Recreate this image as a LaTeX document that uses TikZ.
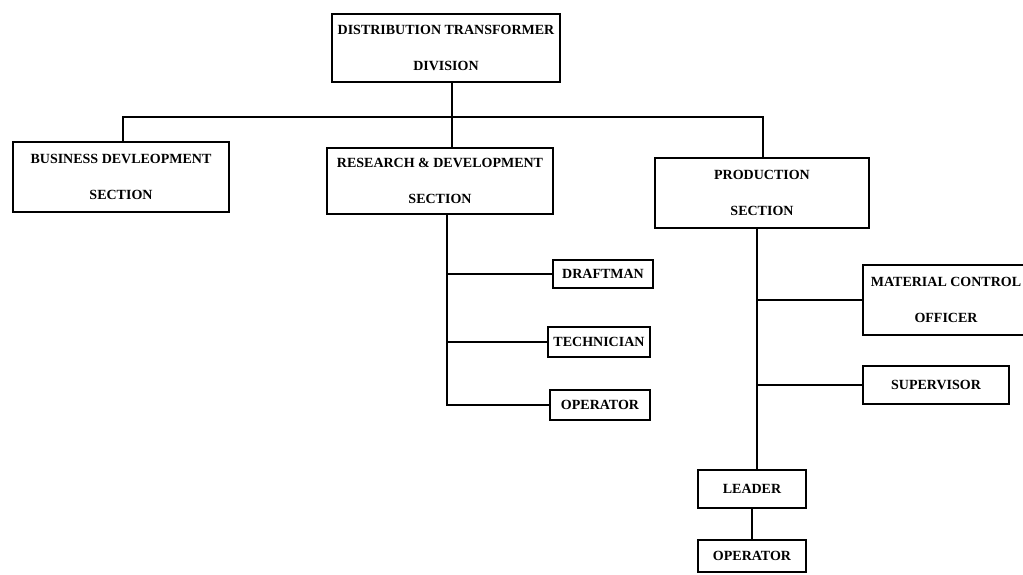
\documentclass[tikz,border=0pt]{standalone}
\usepackage{fontspec}
\setmainfont{Liberation Serif}
\begin{document}
\begin{tikzpicture}[x=1pt,y=-1pt,
  box/.style={draw=black, line width=1.8pt, fill=white, inner sep=0pt, align=center,
    font=\bfseries\fontsize{14}{36}\selectfont},
  conn/.style={draw=black, line width=1.5pt}]
\useasboundingbox (0,0) rectangle (1023,575);
\clip (0,0) rectangle (1023,575);
\fill[white] (0,0) rectangle (1023,575);
% boxes
\node[box, minimum width=228pt, minimum height=68pt] (div) at (446,48) {DISTRIBUTION TRANSFORMER\\DIVISION};
\node[box, minimum width=216pt, minimum height=70pt] (bus) at (121,177) {BUSINESS DEVLEOPMENT\\SECTION};
\node[box, minimum width=226pt, minimum height=66pt] (rnd) at (440,181) {RESEARCH \& DEVELOPMENT\\SECTION};
\node[box, minimum width=214pt, minimum height=70pt] (prod) at (762,193) {PRODUCTION\\SECTION};
\node[box, minimum width=100pt, minimum height=28pt] (draft) at (603,274) {DRAFTMAN};
\node[box, minimum width=102pt, minimum height=30pt] (tech) at (599,342) {TECHNICIAN};
\node[box, minimum width=100pt, minimum height=30pt] (op1) at (600,405) {OPERATOR};
\node[box, minimum width=166pt, minimum height=70pt] (mat) at (946,300) {MATERIAL CONTROL\\OFFICER};
\node[box, minimum width=146pt, minimum height=38pt] (sup) at (936,385) {SUPERVISOR};
\node[box, minimum width=108pt, minimum height=38pt] (lead) at (752,489) {LEADER};
\node[box, minimum width=108pt, minimum height=32pt] (op2) at (752,556) {OPERATOR};
% junction coordinates
\coordinate (hl) at (123,117);
\coordinate (hm) at (452,117);
\coordinate (hr) at (763,117);
\coordinate (rs) at (447,405);
\coordinate (ps) at (757,300);
% connectors
\draw[conn] (div.south -| hm) -- (rnd.north -| hm);
\draw[conn] (bus.north -| hl) -- (hl) -- (hr) -- (prod.north -| hr);
\draw[conn] (rnd.south -| rs) -- (rs) -- (op1.west);
\draw[conn] (draft.west) -- (draft.west -| rs);
\draw[conn] (tech.west) -- (tech.west -| rs);
\draw[conn] (prod.south -| ps) -- (lead.north -| ps);
\draw[conn] (mat.west) -- (mat.west -| ps);
\draw[conn] (sup.west) -- (sup.west -| ps);
\draw[conn] (lead.south) -- (op2.north);
\end{tikzpicture}
\end{document}
